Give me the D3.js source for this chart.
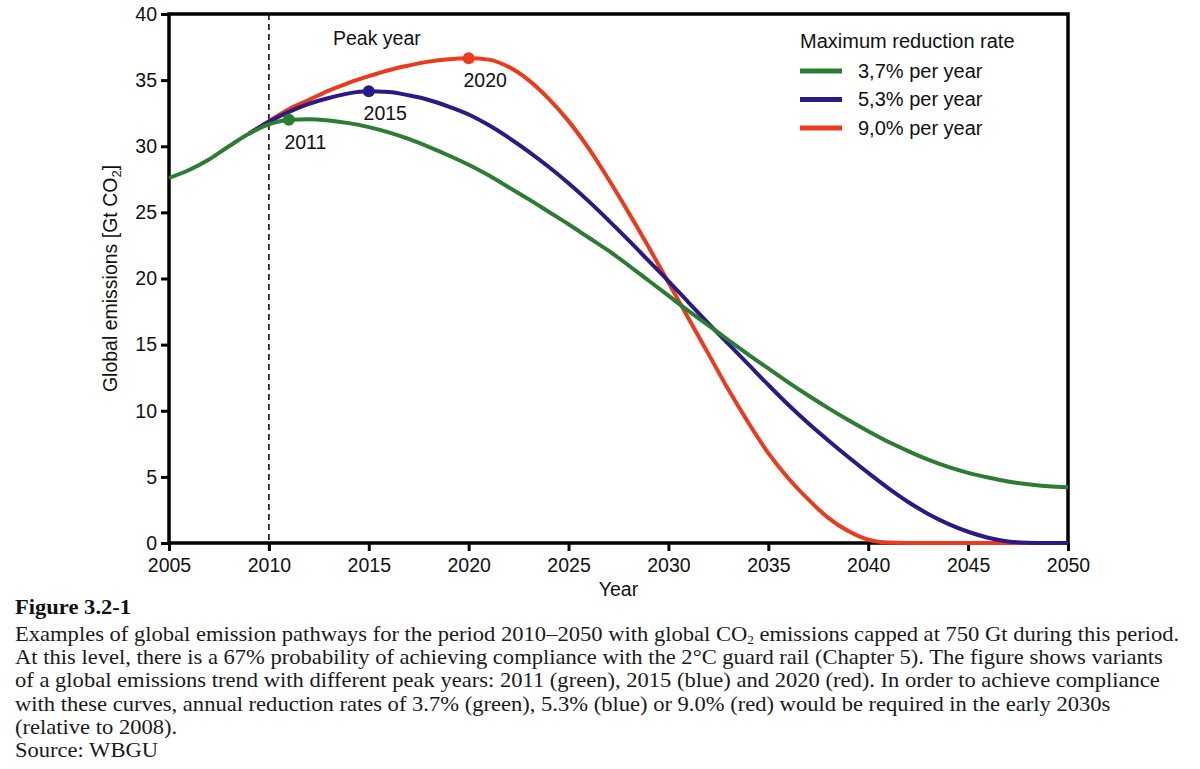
<!DOCTYPE html>
<html>
<head>
<meta charset="utf-8">
<script src="https://cdn.jsdelivr.net/npm/d3@7"></script>
<style>
  body { margin: 0; background: #fff; }
  svg { display: block; }
</style>
</head>
<body>
<svg id="chart" width="1200" height="769"></svg>
<script>
// ---------- data ----------
const xTicks = [2005, 2010, 2015, 2020, 2025, 2030, 2035, 2040, 2045, 2050];
const yTicks = [0, 5, 10, 15, 20, 25, 30, 35, 40];

const greenYears = d3.range(2005, 2051);
const greenValues = [27.6, 28.2, 29.0, 30.0, 30.95, 31.65, 32.0, 32.05, 31.95, 31.75,
  31.45, 31.05, 30.55, 29.95, 29.3, 28.6, 27.8, 26.9, 26.0, 25.05,
  24.1, 23.1, 22.1, 21.0, 19.85, 18.7, 17.55, 16.45, 15.35, 14.25,
  13.2, 12.15, 11.15, 10.2, 9.3, 8.45, 7.65, 6.95, 6.3, 5.75,
  5.3, 4.95, 4.65, 4.45, 4.3, 4.22];

const blueYears = d3.range(2009, 2051);
const blueValues = [30.95, 31.85, 32.6, 33.2, 33.65, 34.0, 34.15, 34.1, 33.85, 33.5,
  33.0, 32.4, 31.6, 30.65, 29.6, 28.45, 27.2, 25.85, 24.4, 22.9,
  21.35, 19.8, 18.2, 16.6, 15.05, 13.5, 11.95, 10.45, 9.05, 7.75,
  6.5, 5.3, 4.15, 3.1, 2.2, 1.45, 0.85, 0.4, 0.12, 0.02,
  0.0, 0.0];

const redYears = d3.range(2009, 2051);
const redValues = [30.95, 31.9, 32.8, 33.5, 34.2, 34.8, 35.3, 35.75, 36.1, 36.4,
  36.58, 36.65, 36.55, 36.0, 35.0, 33.6, 31.9, 29.85, 27.5, 25.0,
  22.4, 19.7, 17.0, 14.3, 11.6, 9.1, 6.8, 4.9, 3.3, 1.9,
  0.9, 0.25, 0.03, 0.0, 0.0, 0.0, 0.0, 0.0, 0.0, 0.0,
  0.0, 0.0];

const peakYears = [2011, 2015, 2020];
const peakValues = [32.0, 34.15, 36.65];
const peakLabels = ["2011", "2015", "2020"];

const legendTitle = "Maximum reduction rate";
const legendLabels = ["3,7% per year", "5,3% per year", "9,0% per year"];
const seriesColors = ["#2a7d32", "#2b1a86", "#ec3a1c"];

const captionTitle = "Figure 3.2-1";
const captionLines = [
  ["Examples of global emission pathways for the period 2010–2050 with global CO", "2", " emissions capped at 750 Gt during this period."],
  ["At this level, there is a 67% probability of achieving compliance with the 2°C guard rail (Chapter 5). The figure shows variants"],
  ["of a global emissions trend with different peak years: 2011 (green), 2015 (blue) and 2020 (red). In order to achieve compliance"],
  ["with these curves, annual reduction rates of 3.7% (green), 5.3% (blue) or 9.0% (red) would be required in the early 2030s"],
  ["(relative to 2008)."],
  ["Source: WBGU"]
];

// ---------- layout ----------
const svg = d3.select("#chart");
svg.append("rect").attr("width", 1200).attr("height", 769).attr("fill", "#fff");

const pLeft = 169, pRight = 1068, pTop = 14, pBottom = 543;
const x = d3.scaleLinear().domain([2005, 2050]).range([pLeft, pRight]);
const y = d3.scaleLinear().domain([0, 40]).range([pBottom, pTop]);

const sans = "'Liberation Sans', Arial, Helvetica, sans-serif";
const serif = "'Liberation Serif', 'Times New Roman', serif";
const fs = 19.5;

// dashed 2010 line
svg.append("line")
  .attr("x1", x(2010)).attr("x2", x(2010))
  .attr("y1", y(40)).attr("y2", y(0))
  .attr("stroke", "#000").attr("stroke-width", 1.5)
  .attr("stroke-dasharray", "6,4");

// axes
const xAxis = svg.append("g").attr("transform", `translate(0,${pBottom})`)
  .call(d3.axisBottom(x).tickValues(xTicks).tickFormat(d3.format("d"))
    .tickSize(8).tickPadding(7).tickSizeOuter(0));
const yAxis = svg.append("g").attr("transform", `translate(${pLeft},0)`)
  .call(d3.axisLeft(y).tickValues(yTicks).tickSize(8).tickPadding(4).tickSizeOuter(0));
[xAxis, yAxis].forEach(g => {
  g.select(".domain").remove();
  g.selectAll(".tick line").attr("stroke", "#000").attr("stroke-width", 3);
  g.selectAll(".tick text").attr("font-family", sans).attr("font-size", fs).attr("fill", "#111");
});

// frame
svg.append("rect")
  .attr("x", pLeft).attr("y", pTop)
  .attr("width", pRight - pLeft).attr("height", pBottom - pTop)
  .attr("fill", "none").attr("stroke", "#000").attr("stroke-width", 3.5);

// axis titles
svg.append("text").attr("x", (pLeft + pRight) / 2).attr("y", 596)
  .attr("text-anchor", "middle").attr("font-family", sans).attr("font-size", fs)
  .attr("fill", "#111").text("Year");

const yl = svg.append("text")
  .attr("transform", `translate(117,${(pTop + pBottom) / 2}) rotate(-90)`)
  .attr("text-anchor", "middle").attr("font-family", sans).attr("font-size", fs)
  .attr("fill", "#111");
yl.append("tspan").text("Global emissions [Gt CO");
yl.append("tspan").attr("font-size", 13).attr("dy", 4).text("2");
yl.append("tspan").attr("dy", -4).text("]");

// lines
const line = d3.line().x(d => x(d[0])).y(d => y(d[1])).curve(d3.curveMonotoneX);
const series = [
  { years: redYears, values: redValues, color: seriesColors[2] },
  { years: blueYears, values: blueValues, color: seriesColors[1] },
  { years: greenYears, values: greenValues, color: seriesColors[0] }
];
series.forEach(s => {
  svg.append("path")
    .datum(s.years.map((yr, i) => [yr, s.values[i]]))
    .attr("d", line)
    .attr("fill", "none")
    .attr("stroke", s.color)
    .attr("stroke-width", 4)
    .attr("stroke-linejoin", "round");
});

// peak markers
peakYears.forEach((yr, i) => {
  svg.append("circle")
    .attr("cx", x(yr)).attr("cy", y(peakValues[i])).attr("r", 6)
    .attr("fill", seriesColors[i]);
  svg.append("text")
    .attr("x", x(yr) + 16.5).attr("y", y(peakValues[i]) + 29)
    .attr("text-anchor", "middle").attr("font-family", sans).attr("font-size", fs)
    .attr("fill", "#111").text(peakLabels[i]);
});

svg.append("text").attr("x", 333).attr("y", 45)
  .attr("font-family", sans).attr("font-size", fs).attr("fill", "#111").text("Peak year");

// legend
svg.append("text").attr("x", 800).attr("y", 47.5)
  .attr("font-family", sans).attr("font-size", 20).attr("fill", "#111").text(legendTitle);
legendLabels.forEach((lab, i) => {
  const ly = 71 + i * 28.5;
  svg.append("line").attr("x1", 800).attr("x2", 842).attr("y1", ly).attr("y2", ly)
    .attr("stroke", seriesColors[i]).attr("stroke-width", 5);
  svg.append("text").attr("x", 858).attr("y", ly + 6.5)
    .attr("font-family", sans).attr("font-size", 20).attr("fill", "#111").text(lab);
});

// caption
const cap = svg.append("g").attr("transform", "translate(15,0) scale(1.065,1)");
cap.append("text").attr("x", 0).attr("y", 614)
  .attr("font-family", serif).attr("font-size", 21.2).attr("font-weight", "bold")
  .attr("fill", "#111").text(captionTitle);
captionLines.forEach((parts, i) => {
  const t = cap.append("text").attr("x", 0).attr("y", 641 + i * 23.2)
    .attr("font-family", serif).attr("font-size", 21.2).attr("fill", "#1a1a1a");
  if (parts.length === 3) {
    t.append("tspan").text(parts[0]);
    t.append("tspan").attr("font-size", 12.5).attr("dy", 3).text(parts[1]);
    t.append("tspan").attr("dy", -3).text(parts[2]);
  } else {
    t.append("tspan").text(parts[0]);
  }
});
</script>
</body>
</html>
